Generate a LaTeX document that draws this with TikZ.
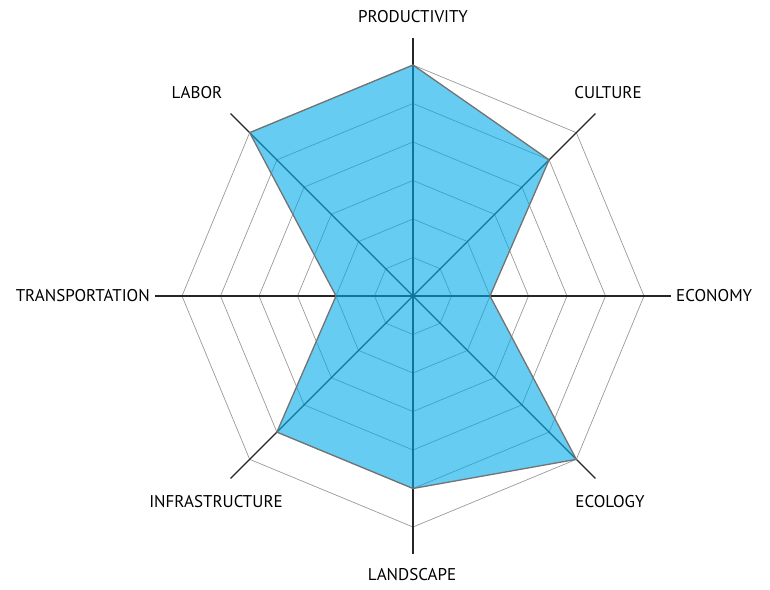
\documentclass[tikz,border=0pt]{standalone}
\usepackage{fontspec}
\setmainfont{PT Sans}
\begin{document}
\begin{tikzpicture}[x=1pt,y=1pt,
  ring/.style={draw=black!40,line width=0.7pt},
  axisline/.style={draw=black!85,line width=1.1pt},
  datafill/.style={fill={rgb,255:red,0;green,170;blue,234},fill opacity=0.6},
  dataline/.style={draw=black!55,line width=1.3pt,line join=round},
  lbl/.style={font=\fontsize{17}{19}\selectfont,inner sep=0pt,text=black}]
\useasboundingbox (-413,-293) rectangle (357,296);
\coordinate (O) at (0,0);
\def\rs{38.5}
% rings
\foreach \k in {1,...,6}{
  \draw[ring] (90:\k*\rs) -- (45:\k*\rs) -- (0:\k*\rs) -- (-45:\k*\rs) -- (-90:\k*\rs) -- (-135:\k*\rs) -- (180:\k*\rs) -- (135:\k*\rs) -- cycle;
}
% axes
\foreach \a/\n in {90/P,45/C,0/E,-45/Ec,-90/L,-135/I,180/T,135/Lb}{
  \coordinate (end\n) at (\a:258);
  \draw[axisline] (O) -- (end\n);
}
% data
\coordinate (dP) at (90:6*\rs);
\coordinate (dC) at (45:5*\rs);
\coordinate (dE) at (0:2*\rs);
\coordinate (dEc) at (-45:6*\rs);
\coordinate (dL) at (-90:5*\rs);
\coordinate (dI) at (-135:5*\rs);
\coordinate (dT) at (180:2*\rs);
\coordinate (dLb) at (135:6*\rs);
\fill[datafill] (dP) -- (dC) -- (dE) -- (dEc) -- (dL) -- (dI) -- (dT) -- (dLb) -- cycle;
\draw[dataline] (dP) -- (dC) -- (dE) -- (dEc) -- (dL) -- (dI) -- (dT) -- (dLb) -- cycle;
% labels
\node[lbl] (lP) at (0,279) {PRODUCTIVITY};
\node[lbl] (lC) at (195,203) {CULTURE};
\node[lbl,anchor=west] (lE) at (263,0) {ECONOMY};
\node[lbl] (lEc) at (197,-206) {ECOLOGY};
\node[lbl] (lL) at (-1,-279) {LANDSCAPE};
\node[lbl] (lI) at (-197,-206) {INFRASTRUCTURE};
\node[lbl,anchor=east] (lT) at (-263,0) {TRANSPORTATION};
\node[lbl] (lLb) at (-216,203) {LABOR};
\end{tikzpicture}
\end{document}
